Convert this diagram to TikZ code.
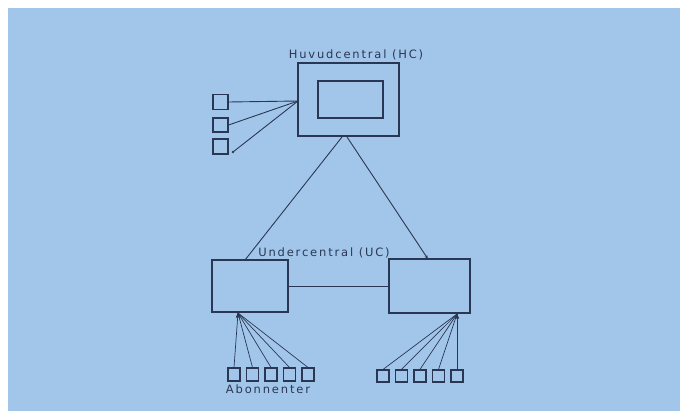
\documentclass[tikz,border=0pt]{standalone}
\usepackage{fontspec}
\setsansfont{DejaVu Sans}
\usetikzlibrary{arrows.meta}
\definecolor{bgblue}{RGB}{162,198,233}
\definecolor{ink}{RGB}{42,55,84}
\begin{document}
\begin{tikzpicture}[x=1pt,y=-1pt,
  box/.style={draw=ink, line width=1.1pt, minimum width=#1, inner sep=0pt},
  wire/.style={draw=ink, line width=0.9pt},
  lbl/.style={text=ink, font=\sffamily\fontsize{11.5}{13}\selectfont\addfontfeature{LetterSpace=16}, inner sep=0pt}]
\fill[white] (0,0) rectangle (680,414);
\fill[bgblue] (8,8) rectangle (680,411);
\useasboundingbox (0,0) rectangle (680,414);
% main central
\node[box=101pt, minimum height=73pt] (hc) at (348.5,99.5) {};
\node[box=65pt, minimum height=37pt] (hcin) at (350.5,99.5) {};
\node[lbl] (hclbl) at (356,55) {Huvudcentral (HC)};
% left small boxes
\node[box=15pt, minimum height=15pt] (s1) at (220.5,102) {};
\node[box=15pt, minimum height=14pt] (s2) at (220.5,125) {};
\node[box=15pt, minimum height=15pt] (s3) at (220.5,146.5) {};
\coordinate (hcw) at (298,101);
\coordinate (s3e) at (233,152);
\draw[wire] (s1.east) -- (hcw);
\draw[wire] (s2.east) -- (hcw);
\draw[wire] (s3e) -- (hcw);
\fill[ink] (s3e) circle (1.4pt);
% sub centrals
\node[box=76pt, minimum height=52pt] (ucl) at (250,286) {};
\node[box=81pt, minimum height=54pt] (ucr) at (429.5,286) {};
\node[lbl] (uclbl) at (324,253) {Undercentral (UC)};
\coordinate (hcb1) at (342,137);
\coordinate (hcb2) at (347,137);
\coordinate (ucltop) at (245,260);
\coordinate (ucrtop) at (428,259);
\draw[wire] (hcb1) -- (ucltop);
\draw[wire, -{Stealth[length=4pt,width=3pt]}] (hcb2) -- (ucrtop);
\draw[wire] (ucl.east) -- (ucr.west);
% subscribers left
\coordinate (cl) at (238,313);
\foreach \i in {0,...,4}{
  \node[box=12pt, minimum height=13pt] (al\i) at ({234+18.5*\i},374.5) {};
  \draw[wire, line width=0.7pt] (al\i.north) -- (cl);
}
\fill[ink] (cl) ++(0,-0.5) -- ++(-2.2,5) -- ++(4.4,0) -- cycle;
\node[lbl] (ablbl) at (268,389) {Abonnenter};
% subscribers right
\coordinate (cr) at (457,314);
\foreach \i in {0,...,4}{
  \node[box=12pt, minimum height=12pt] (ar\i) at ({383+18.5*\i},376) {};
  \draw[wire, line width=0.7pt] (ar\i.north) -- (cr);
}
\fill[ink] (cr) ++(0,-0.5) -- ++(-2.2,5) -- ++(4.4,0) -- cycle;
\end{tikzpicture}
\end{document}
